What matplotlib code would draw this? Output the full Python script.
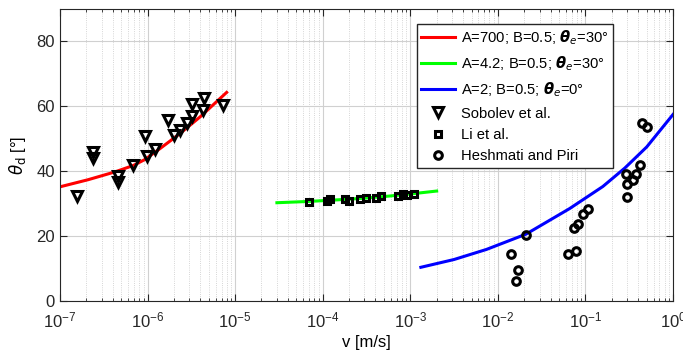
import matplotlib
matplotlib.use('Agg')
import matplotlib.pyplot as plt
from matplotlib.ticker import LogLocator, NullFormatter

plt.rcParams['font.family'] = ['Liberation Sans', 'DejaVu Sans']
plt.rcParams['mathtext.fontset'] = 'dejavusans'

# model curves
red_v = [1e-7, 2.1e-7, 4.25e-7, 6.9e-7, 9.3e-7, 1.39e-6, 2.34e-6, 3.96e-6, 8.0e-6]
red_t = [35.2, 37.4, 39.8, 41.8, 43.6, 47.0, 51.6, 56.7, 64.3]

green_v = [3e-5, 7e-5, 1.5e-4, 3e-4, 6e-4, 1e-3, 2e-3]
green_t = [30.3, 30.7, 31.2, 31.7, 32.4, 33.0, 33.9]

blue_v = [1.32e-3, 3.16e-3, 7.4e-3, 2.09e-2, 6.6e-2, 0.158, 0.282, 0.501, 1.0]
blue_t = [10.4, 12.8, 15.9, 20.6, 28.5, 35.3, 41.0, 47.5, 57.5]

# Sobolev et al.
sob_v = [1.55e-7, 2.4e-7, 2.4e-7, 4.6e-7, 4.6e-7, 6.9e-7, 9.3e-7, 9.8e-7, 1.21e-6,
         1.72e-6, 2.0e-6, 2.34e-6, 2.84e-6, 3.18e-6, 3.25e-6, 4.43e-6, 4.35e-6, 7.3e-6]
sob_t = [32.3, 45.9, 44.0, 38.5, 36.6, 41.8, 50.8, 44.6, 47.0,
         55.7, 51.1, 52.8, 54.9, 60.6, 56.9, 62.7, 59.0, 60.3]

# Li et al.
li_v = [7.0e-5, 1.11e-4, 1.21e-4, 1.79e-4, 2.0e-4, 2.66e-4, 3.1e-4, 4.1e-4, 4.6e-4,
        7.3e-4, 8.3e-4, 9.1e-4, 1.1e-3]
li_t = [30.4, 30.9, 31.3, 31.6, 30.9, 31.4, 31.9, 31.8, 32.3,
        32.4, 33.1, 32.6, 33.1]

# Heshmati and Piri
hp_v = [0.0143, 0.0171, 0.0163, 0.0209, 0.0624, 0.0776, 0.0743, 0.0826, 0.094, 0.106,
        0.299, 0.299, 0.294, 0.345, 0.376, 0.425, 0.448, 0.498]
hp_t = [14.4, 9.5, 6.2, 20.5, 14.4, 15.5, 22.6, 23.7, 26.7, 28.5,
        32.1, 36.0, 39.3, 37.2, 39.3, 41.8, 54.9, 53.6]

fig = plt.figure(figsize=(6.83, 3.55), dpi=100)
ax = fig.add_axes([0.0878, 0.152, 0.8976, 0.8226])

ax.plot(red_v, red_t, color='#ff0000', lw=2.2, label='A=700; B=0.5; $\\boldsymbol{\\theta}_e$=30°')
ax.plot(green_v, green_t, color='#00ff00', lw=2.2, label='A=4.2; B=0.5; $\\boldsymbol{\\theta}_e$=30°')
ax.plot(blue_v, blue_t, color='#0000ff', lw=2.2, label='A=2; B=0.5; $\\boldsymbol{\\theta}_e$=0°')

mk = dict(ls='none', mfc='none', mec='k', mew=2.2)
ax.plot(sob_v, sob_t, marker='v', ms=6.5, label='Sobolev et al.', **mk)
ax.plot(li_v, li_t, marker='s', ms=5, label='Li et al.', **mk)
ax.plot(hp_v, hp_t, marker='o', ms=5.5, label='Heshmati and Piri', **mk)

ax.set_xscale('log')
ax.set_xlim(1e-7, 1)
ax.set_ylim(0, 90)
ax.set_yticks([0, 20, 40, 60, 80])
ax.xaxis.set_major_locator(LogLocator(base=10, numticks=10))
ax.xaxis.set_minor_locator(LogLocator(base=10, subs=range(2, 10), numticks=100))
ax.xaxis.set_minor_formatter(NullFormatter())

ax.grid(True, which='major', color='#d0d0d0', lw=0.8)
ax.grid(True, which='minor', color='#c8c8c8', lw=0.6, ls=':')
ax.set_axisbelow(True)
ax.tick_params(which='both', direction='in', top=True, right=True, labelsize=12, colors='#262626')
ax.tick_params(axis='x', which='major', pad=7)
ax.tick_params(which='major', length=5)
ax.tick_params(which='minor', length=2.5)
for s in ax.spines.values():
    s.set_color('#262626')

ax.set_xlabel('v [m/s]', fontsize=12, labelpad=3)
ax.set_ylabel(r'$\theta_{\rm d}$ [°]', fontsize=12, labelpad=6)

leg = ax.legend(loc='upper left', bbox_to_anchor=(0.582, 0.949), borderaxespad=0,
                fontsize=10.6, frameon=True, fancybox=False, edgecolor='#262626', framealpha=1,
                handlelength=2.3, borderpad=0.3, labelspacing=0.5, handletextpad=0.4)
leg.get_frame().set_linewidth(1.0)

fig.savefig('out.png', dpi=100)
